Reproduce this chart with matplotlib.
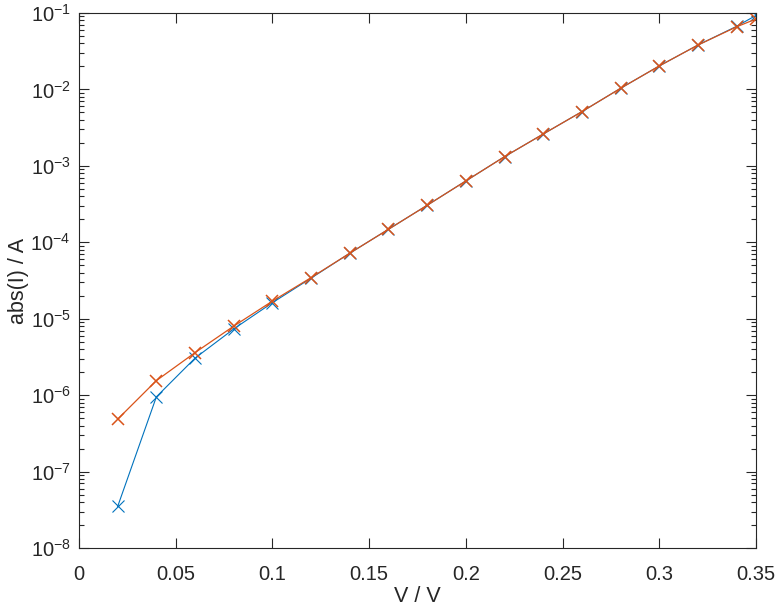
import numpy as np
import matplotlib
matplotlib.use('Agg')
import matplotlib.pyplot as plt
from matplotlib.ticker import LogLocator, FixedLocator, NullFormatter

plt.rcParams['font.family'] = ['Liberation Sans', 'DejaVu Sans']
plt.rcParams['mathtext.fontset'] = 'custom'
plt.rcParams['mathtext.rm'] = 'Liberation Sans'
plt.rcParams['mathtext.it'] = 'Liberation Sans'
plt.rcParams['mathtext.default'] = 'regular'

# voltage steps (V)
voltage = [0.02, 0.04, 0.06, 0.08, 0.10, 0.12, 0.14, 0.16, 0.18, 0.20,
           0.22, 0.24, 0.26, 0.28, 0.30, 0.32, 0.34, 0.35]

# abs current (A), blue series
current_blue = [3.5e-8, 9.5e-7, 3.05e-6, 7.35e-6, 1.62e-5, 3.4e-5, 7.2e-5,
                1.48e-4, 3.05e-4, 6.35e-4, 1.32e-3, 2.61e-3, 5.12e-3, 1.035e-2,
                2.03e-2, 3.81e-2, 6.7e-2, 9.3e-2]

# abs current (A), orange series
current_orange = [4.85e-7, 1.55e-6, 3.6e-6, 8.0e-6, 1.7e-5, 3.45e-5, 7.2e-5,
                  1.48e-4, 3.05e-4, 6.35e-4, 1.32e-3, 2.61e-3, 5.12e-3, 1.035e-2,
                  2.03e-2, 3.81e-2, 6.6e-2, 8.35e-2]

xticks = [0, 0.05, 0.1, 0.15, 0.2, 0.25, 0.3, 0.35]
xticklabels = ['0', '0.05', '0.1', '0.15', '0.2', '0.25', '0.3', '0.35']

axis_color = '#262626'

fig = plt.figure(figsize=(7.78, 6.12), dpi=100)
ax = fig.add_axes([79 / 778, 1 - 548 / 612, (756 - 79) / 778, (548 - 13) / 612])

ax.plot(voltage, current_blue, '-x', color='#0072BD', lw=0.8, ms=8, mew=0.8)
ax.plot(voltage, current_orange, '-x', color='#D95319', lw=0.9, ms=8, mew=1.1)

ax.set_yscale('log')
ax.set_xlim(0, 0.35)
ax.set_ylim(1e-8, 1e-1)

ax.xaxis.set_major_locator(FixedLocator(xticks))
ax.set_xticklabels(xticklabels)
ax.yaxis.set_major_locator(LogLocator(base=10, numticks=20))
ax.yaxis.set_minor_locator(LogLocator(base=10, subs=np.arange(2, 10), numticks=20))
ax.yaxis.set_minor_formatter(NullFormatter())

ax.tick_params(which='both', direction='in', top=True, right=True,
               color=axis_color, labelcolor=axis_color, labelsize=14.5)
ax.tick_params(which='major', length=7, width=0.8)
ax.tick_params(which='minor', length=3.5, width=0.8)
ax.tick_params(axis='x', pad=12)
ax.tick_params(axis='y', pad=6)

for sp in ax.spines.values():
    sp.set_color(axis_color)
    sp.set_linewidth(0.8)

ax.set_xlabel('V / V', fontsize=15.5, color=axis_color, labelpad=2)
ax.set_ylabel('abs(I) / A', fontsize=15.5, color=axis_color, labelpad=1)

fig.savefig('out.png', dpi=100)
